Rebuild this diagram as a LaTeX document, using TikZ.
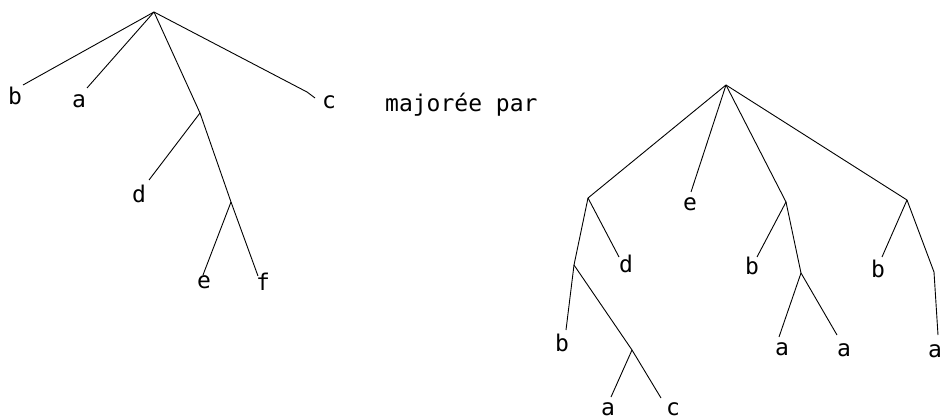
\documentclass[tikz,border=0pt]{standalone}
\usepackage{fontspec}
\setmonofont{DejaVu Sans Mono}
\begin{document}
\begin{tikzpicture}[x=1pt,y=-1pt,
  edge/.style={line width=0.9pt,line join=round},
  lab/.style={anchor=base,inner sep=0pt,font=\ttfamily\fontsize{23}{23}\selectfont}]
\useasboundingbox (0,0) rectangle (943,420);
% ---- left tree ----
\coordinate (r1) at (154,12);
\coordinate (n1) at (200,113);
\coordinate (n2) at (231,202);
\coordinate (eb) at (23,85);
\coordinate (ea) at (87,88);
\coordinate (cb) at (307,92);
\coordinate (ec) at (315,98);
\coordinate (ed) at (149,180);
\coordinate (ee) at (203,275);
\coordinate (ef) at (258,276);
\node[lab] (lb) at (15,105) {b};
\node[lab] (la) at (79,107) {a};
\node[lab] (lc) at (329,109) {c};
\node[lab] (ld) at (139,202) {d};
\node[lab] (le) at (204,288) {e};
\node[lab] (lf) at (263,290) {f};
\draw[edge] (r1) -- (eb);
\draw[edge] (r1) -- (ea);
\draw[edge] (r1) -- (cb) -- (ec);
\draw[edge] (r1) -- (n1) -- (n2) -- (ef);
\draw[edge] (n1) -- (ed);
\draw[edge] (n2) -- (ee);
% ---- text ----
\node[lab,anchor=base west] (maj) at (385,111) {majorée par};
% ---- right tree ----
\coordinate (r2) at (726,85);
\coordinate (L) at (588,198);
\coordinate (M) at (786,202);
\coordinate (R) at (907,200);
\coordinate (LL) at (574,265);
\coordinate (LLR) at (632,350);
\coordinate (MR) at (801,273);
\coordinate (RR) at (934,272);
\coordinate (xe) at (691,192);
\coordinate (xd) at (619,257);
\coordinate (xb1) at (566,330);
\coordinate (xa1) at (611,397);
\coordinate (xc) at (661,398);
\coordinate (xb2) at (757,257);
\coordinate (xa2) at (779,337);
\coordinate (xa3) at (837,335);
\coordinate (xb3) at (882,257);
\coordinate (xa4) at (938,335);
\node[lab] (te) at (690,210) {e};
\node[lab] (td) at (626,272) {d};
\node[lab] (tb1) at (562,351) {b};
\node[lab] (ta1) at (608,415) {a};
\node[lab] (tc) at (673,415) {c};
\node[lab] (tb2) at (752,274) {b};
\node[lab] (ta2) at (782,355) {a};
\node[lab] (ta3) at (844,356) {a};
\node[lab] (tb3) at (878,277) {b};
\node[lab] (ta4) at (935,357) {a};
\draw[edge] (r2) -- (L);
\draw[edge] (r2) -- (xe);
\draw[edge] (r2) -- (M);
\draw[edge] (r2) -- (R);
\draw[edge] (L) -- (LL);
\draw[edge] (L) -- (xd);
\draw[edge] (LL) -- (xb1);
\draw[edge] (LL) -- (LLR);
\draw[edge] (LLR) -- (xa1);
\draw[edge] (LLR) -- (xc);
\draw[edge] (M) -- (xb2);
\draw[edge] (M) -- (MR);
\draw[edge] (MR) -- (xa2);
\draw[edge] (MR) -- (xa3);
\draw[edge] (R) -- (xb3);
\draw[edge] (R) -- (RR);
\draw[edge] (RR) -- (xa4);
\end{tikzpicture}
\end{document}
